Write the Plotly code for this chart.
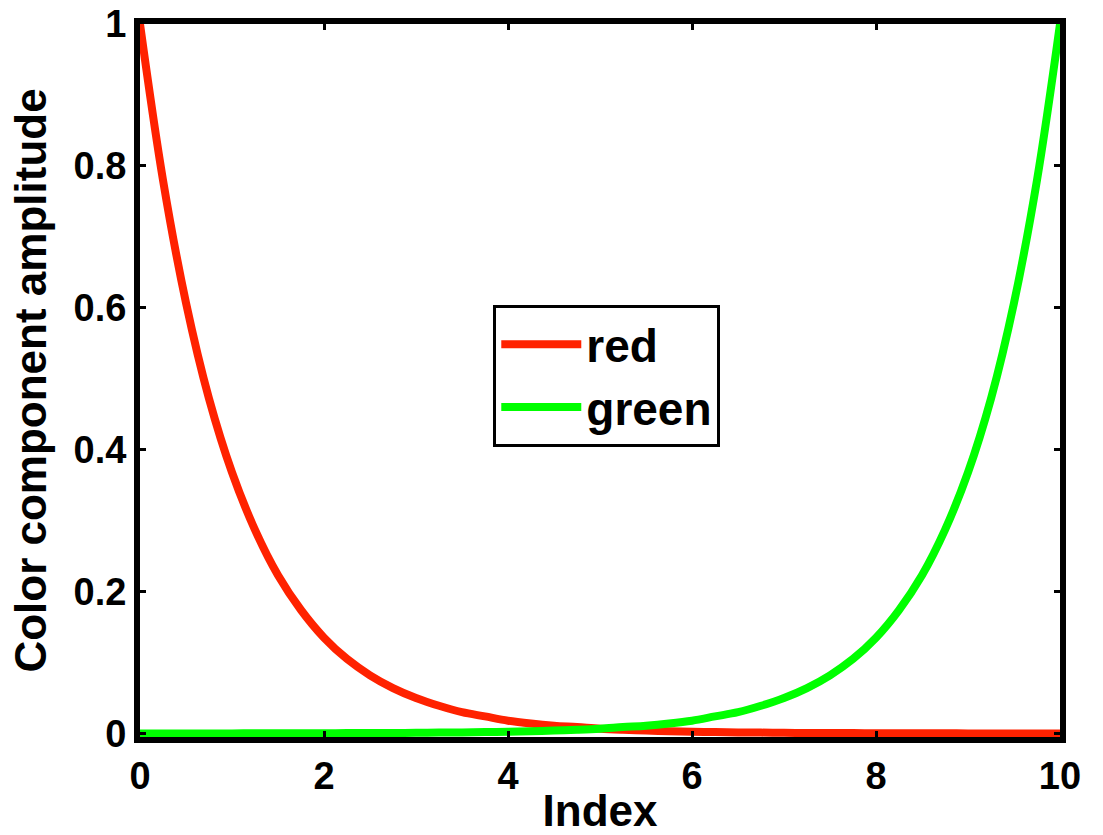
import plotly.graph_objects as go

# Data
index_values = [0, 0.25, 0.5, 0.75, 1, 1.25, 1.5, 1.75, 2, 2.25, 2.5, 2.75, 3, 3.25, 3.5, 3.75,
                4, 4.25, 4.5, 4.75, 5, 5.25, 5.5, 5.75, 6, 6.25, 6.5, 6.75, 7, 7.25, 7.5, 7.75,
                8, 8.25, 8.5, 8.75, 9, 9.25, 9.5, 9.75, 10]
red_values = [1.0, 0.78, 0.607, 0.472, 0.368, 0.287, 0.223, 0.174, 0.135, 0.105, 0.082, 0.064,
              0.050, 0.039, 0.030, 0.024, 0.018, 0.014, 0.011, 0.009, 0.0067, 0.0052, 0.0041,
              0.0032, 0.0025, 0.0019, 0.0015, 0.0012, 0.0009, 0.0007, 0.0006, 0.0005, 0.0004,
              0.0003, 0.0002, 0.0002, 0.0001, 0.0001, 0.0001, 0.0, 0.0]
green_values = [0.0, 0.0, 0.0001, 0.0001, 0.0001, 0.0002, 0.0002, 0.0003, 0.0004, 0.0005, 0.0006,
                0.0007, 0.0009, 0.0012, 0.0015, 0.0019, 0.0025, 0.0032, 0.0041, 0.0052, 0.0067,
                0.009, 0.011, 0.014, 0.018, 0.024, 0.030, 0.039, 0.050, 0.064, 0.082, 0.105,
                0.135, 0.174, 0.223, 0.287, 0.368, 0.472, 0.607, 0.78, 1.0]
x_ticks = [0, 2, 4, 6, 8, 10]
y_ticks = [0, 0.2, 0.4, 0.6, 0.8, 1]
y_tick_labels = ["0", "0.2", "0.4", "0.6", "0.8", "1"]

RED = "rgb(255,34,0)"
GREEN = "rgb(0,255,0)"
FONT = "Liberation Sans, Arial, sans-serif"

fig = go.Figure()
fig.add_trace(go.Scatter(x=index_values, y=red_values, mode="lines", name="red",
                         line=dict(color=RED, width=8, shape="spline")))
fig.add_trace(go.Scatter(x=index_values, y=green_values, mode="lines", name="green",
                         line=dict(color=GREEN, width=8, shape="spline")))

axis_common = dict(
    showline=True, linecolor="black", linewidth=6, mirror="ticks",
    ticks="inside", ticklen=6, tickwidth=3, tickcolor="black",
    showgrid=False, zeroline=False, automargin=False,
    tickfont=dict(family=FONT, size=38, color="black", weight="bold"),
)

fig.update_layout(
    width=1103, height=835,
    margin=dict(l=140, r=43, t=24, b=98),
    paper_bgcolor="white", plot_bgcolor="white",
    font=dict(family=FONT, color="black", weight="bold"),
    xaxis=dict(range=[0, 10], tickvals=x_ticks, ticktext=[str(v) for v in x_ticks],
               title=dict(text="Index", font=dict(family=FONT, size=44, weight="bold")),
               **axis_common),
    yaxis=dict(range=[-0.005, 1], tickvals=y_ticks, ticktext=y_tick_labels,
               title=dict(text="Color component amplitude", font=dict(family=FONT, size=44, weight="bold")),
               **axis_common),
    showlegend=True,
    legend=dict(x=0.384, y=0.606, xanchor="left", yanchor="top",
                bgcolor="white", bordercolor="black", borderwidth=3,
                font=dict(family=FONT, size=46, color="black", weight="bold"),
                itemwidth=80, tracegroupgap=0),
)

fig.write_html("out.html")
